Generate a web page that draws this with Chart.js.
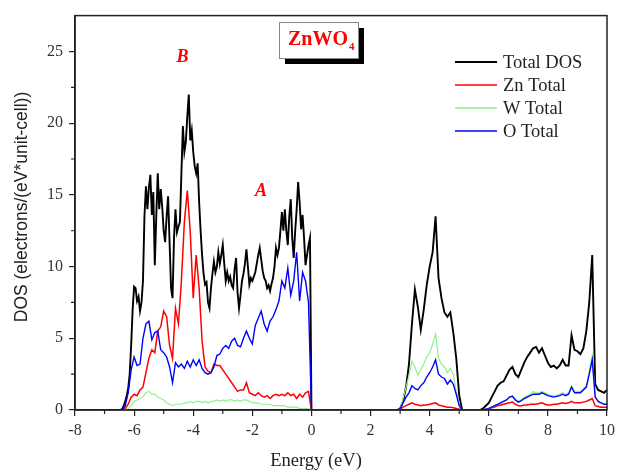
<!doctype html>
<html lang="en">
<head>
<meta charset="utf-8">
<script src="https://cdn.jsdelivr.net/npm/chart.js@4.4.0/dist/chart.umd.min.js"></script>
<style>
  body { margin: 0; background: #fff; }
</style>
</head>
<body>
<canvas id="dos" width="620" height="470"></canvas>
<script>
// energy grids (eV) for the three bands
const energyVB = [-6.5,-6.4,-6.3,-6.2,-6.1,-6.0,-5.9,-5.8,-5.7,-5.6,
  -5.5,-5.4,-5.3,-5.2,-5.1,-5.0,-4.9,-4.8,-4.7,-4.6,
  -4.5,-4.4,-4.3,-4.2,-4.1,-4.0,-3.9,-3.8,-3.7,-3.6,
  -3.5,-3.4,-3.3,-3.2,-3.1,-3.0,-2.9,-2.8,-2.7,-2.6,
  -2.5,-2.4,-2.3,-2.2,-2.1,-2.0,-1.9,-1.8,-1.7,-1.6,
  -1.5,-1.4,-1.3,-1.2,-1.1,-1.0,-0.9,-0.8,-0.7,-0.6,
  -0.5,-0.4,-0.3,-0.2,-0.1,0.0];
// finer grid used for the (very spiky) total DOS in the valence band
const energyTotalVB = [-6.5,-6.45,-6.4,-6.35,-6.3,-6.25,-6.2,-6.15,-6.1,-6.05,
  -6.0,-5.95,-5.9,-5.85,-5.8,-5.75,-5.7,-5.65,-5.6,-5.55,
  -5.5,-5.45,-5.4,-5.35,-5.3,-5.25,-5.2,-5.15,-5.1,-5.05,
  -5.0,-4.95,-4.9,-4.85,-4.8,-4.75,-4.7,-4.65,-4.6,-4.55,
  -4.5,-4.45,-4.4,-4.35,-4.3,-4.25,-4.2,-4.15,-4.1,-4.05,
  -4.0,-3.95,-3.9,-3.85,-3.8,-3.75,-3.7,-3.65,-3.6,-3.55,
  -3.5,-3.45,-3.4,-3.35,-3.3,-3.25,-3.2,-3.15,-3.1,-3.05,
  -3.0,-2.95,-2.9,-2.85,-2.8,-2.75,-2.7,-2.65,-2.6,-2.55,
  -2.5,-2.45,-2.4,-2.35,-2.3,-2.25,-2.2,-2.15,-2.1,-2.05,
  -2.0,-1.95,-1.9,-1.85,-1.8,-1.75,-1.7,-1.65,-1.6,-1.55,
  -1.5,-1.45,-1.4,-1.35,-1.3,-1.25,-1.2,-1.15,-1.1,-1.05,
  -1.0,-0.95,-0.9,-0.85,-0.8,-0.75,-0.7,-0.65,-0.6,-0.55,
  -0.5,-0.45,-0.4,-0.35,-0.3,-0.25,-0.2,-0.15,-0.1,-0.05,
  0.0];
const energyCB1 = [2.9,3.0,3.1,3.2,3.3,3.4,3.5,3.6,3.7,3.8,3.9,4.0,4.1,4.2,4.3,4.4,4.5,4.6,4.7,4.8,4.9,5.0,5.1];
const energyCB2 = [5.6,5.7,5.8,5.9,6.0,6.1,6.2,6.3,6.4,6.5,
  6.6,6.7,6.8,6.9,7.0,7.1,7.2,7.3,7.4,7.5,
  7.6,7.7,7.8,7.9,8.0,8.1,8.2,8.3,8.4,8.5,
  8.6,8.7,8.8,8.9,9.0,9.1,9.2,9.3,9.4,9.5,
  9.6,9.7,9.8,9.9,10.0];

// Total DOS
const totalVB = [0,0,0.1,0.3,0.6,1.0,1.5,2.5,4.5,7.0,
  8.6,8.5,7.6,7.9,6.9,7.5,9.0,13.5,15.6,14.0,
  15.5,16.4,13.6,15.2,10.1,13.5,16.5,14.0,15.4,14.2,
  12.5,11.7,13.5,14.9,11.7,8.5,7.8,12.0,14.0,12.4,
  12.8,13.1,16.5,19.8,18.0,18.7,20.5,22.0,18.8,19.5,
  18.0,17.0,16.5,17.2,14.5,12.5,10.8,9.5,8.75,8.9,
  7.5,7.1,8.5,9.5,10.35,9.6,10.0,11.0,10.2,10.8,
  11.5,10.2,9.0,9.6,9.0,9.3,8.7,8.5,9.8,10.6,
  8.2,7.1,8.0,9.0,9.5,10.2,11.2,10.0,8.75,9.2,
  9.0,9.3,9.6,10.2,10.8,11.3,10.5,9.7,9.2,9.0,
  8.5,8.7,8.3,8.8,9.2,10.0,11.3,10.8,11.3,12.5,
  13.8,12.5,14.0,12.5,11.5,13.5,14.7,12.0,10.6,12.5,
  14.0,15.9,14.5,12.6,13.6,12.0,10.1,10.8,11.5,12.0,
  0];
const totalCB1 = [0,0.1,0.6,1.6,3.2,6.0,8.4,7.2,5.6,7.0,8.7,10.0,11.0,13.5,9.2,7.8,6.8,6.5,6.8,5.4,3.6,1.0,0];
const totalCB2 = [0,0,0.1,0.3,0.5,0.9,1.3,1.7,1.9,2.0,
  2.4,2.8,3.0,2.5,2.3,2.8,3.3,3.7,4.0,4.3,
  4.4,4.0,4.3,3.8,3.3,3.0,3.1,2.9,3.1,3.5,
  3.1,3.1,5.2,4.2,4.1,3.9,4.3,5.5,7.5,10.8,
  1.8,1.4,1.3,1.2,1.4];

// Zn Total
const znVB = [0,0,0.1,0.4,0.9,1.1,1.0,1.4,1.6,2.6,
  3.6,4.2,4.0,5.5,5.8,6.9,6.5,4.5,3.6,7.1,
  6.0,9.0,13.1,15.3,12.4,7.8,10.8,8.5,4.8,3.0,
  2.7,2.6,3.2,3.1,3.1,2.8,2.5,2.2,1.9,1.6,
  1.3,1.4,1.4,1.9,1.2,1.1,1.0,1.2,1.0,0.9,
  1.0,0.8,1.0,1.1,1.0,1.1,1.0,1.2,1.0,1.1,
  0.8,1.1,0.9,1.2,1.3,0];
const znCB1 = [0,0.05,0.2,0.3,0.4,0.5,0.4,0.35,0.3,0.35,0.35,0.4,0.45,0.5,0.35,0.3,0.25,0.2,0.2,0.15,0.1,0.05,0];
const znCB2 = [0,0,0,0.05,0.1,0.15,0.2,0.3,0.35,0.4,
  0.45,0.5,0.55,0.4,0.3,0.3,0.35,0.35,0.4,0.4,
  0.4,0.45,0.5,0.4,0.35,0.35,0.4,0.4,0.45,0.5,
  0.45,0.5,0.6,0.5,0.5,0.5,0.55,0.6,0.7,0.8,
  0.3,0.25,0.2,0.2,0.2];

// W Total
const wVB = [0,0,0,0.1,0.3,0.6,0.7,0.8,0.9,1.2,
  1.3,1.1,1.1,0.9,0.8,0.7,0.5,0.4,0.3,0.4,
  0.4,0.4,0.5,0.5,0.6,0.5,0.6,0.6,0.5,0.6,
  0.5,0.6,0.6,0.7,0.6,0.7,0.6,0.7,0.7,0.6,
  0.7,0.6,0.7,0.7,0.6,0.5,0.5,0.5,0.4,0.4,
  0.4,0.4,0.3,0.3,0.3,0.3,0.3,0.2,0.2,0.2,
  0.2,0.1,0.1,0.1,0.1,0];
const wCB1 = [0,0.1,0.8,1.6,2.4,3.4,3.0,2.4,2.8,3.2,3.7,4.0,4.6,5.3,3.6,3.2,3.0,2.6,2.9,2.5,1.3,0.3,0];
const wCB2 = [0,0,0,0.05,0.1,0.2,0.3,0.4,0.5,0.6,
  0.7,0.9,1.0,0.8,0.6,0.7,0.9,1.0,1.1,1.3,
  1.2,1.2,1.3,1.2,1.1,1.0,1.0,1.0,1.1,1.2,
  1.1,1.2,1.7,1.3,1.3,1.3,1.5,1.7,2.7,3.8,
  1.0,0.6,0.5,0.4,0.4];

// O Total
const oVB = [0,0,0.3,1.2,2.8,3.7,3.1,3.2,5.0,6.0,
  6.2,4.9,5.4,5.5,4.2,4.0,3.7,3.0,1.9,3.3,
  3.0,3.2,2.9,3.4,3.0,3.5,3.1,3.5,2.9,2.6,
  2.5,2.6,3.0,3.8,3.9,4.3,4.5,4.3,4.8,5.0,
  4.5,4.4,5.0,5.5,5.0,4.6,5.9,6.4,6.9,6.0,
  5.5,6.2,6.5,7.0,7.6,9.0,8.5,9.9,8.0,9.0,
  11.0,7.6,9.6,9.0,7.5,0];
const oCB1 = [0,0.1,0.5,0.9,1.2,1.7,1.5,1.4,1.7,1.9,2.3,2.6,3.0,3.5,2.5,2.3,2.2,1.8,2.1,1.8,1.1,0.3,0];
const oCB2 = [0,0,0,0.05,0.1,0.2,0.3,0.4,0.5,0.6,
  0.7,0.9,0.95,0.7,0.55,0.65,0.8,0.9,1.0,1.1,
  1.1,1.1,1.2,1.1,1.0,0.95,0.9,0.95,1.0,1.1,
  1.0,1.1,1.6,1.2,1.2,1.2,1.4,1.6,2.5,3.5,
  0.9,0.6,0.5,0.4,0.4];

const seriesNames = ["Total DOS", "Zn Total", "W Total", "O Total"];
const seriesColors = ["#000000", "#ff0000", "#90f090", "#0000ff"];
const xTicks = [-8, -6, -4, -2, 0, 2, 4, 6, 8, 10];
const yTicks = [0, 5, 10, 15, 20, 25];

function pts(e, v) {
  return e.map((x, i) => ({ x: x, y: v[i] }));
}
function band(eVB, vb, cb1, cb2) {
  return pts(eVB, vb).concat(pts(energyCB1, cb1), pts(energyCB2, cb2));
}

const serif = "'Liberation Serif', 'Times New Roman', serif";
const sans = "'Liberation Sans', Arial, sans-serif";

// frame, minor ticks, titles, legend and the labels on the plot
const decor = {
  id: "decor",
  afterDraw(chart) {
    const ctx = chart.ctx;
    const a = chart.chartArea;
    const xs = chart.scales.x, ys = chart.scales.y;
    ctx.save();
    ctx.strokeStyle = "#222";
    ctx.lineWidth = 1.5;
    ctx.strokeRect(a.left, a.top, a.right - a.left, a.bottom - a.top);

    // minor ticks
    ctx.lineWidth = 1.2;
    ctx.beginPath();
    for (let v = -7; v < 10; v += 2) {
      const px = xs.getPixelForValue(v);
      ctx.moveTo(px, a.bottom); ctx.lineTo(px, a.bottom + 4);
    }
    for (let v = 2.5; v < 27; v += 5) {
      const py = ys.getPixelForValue(v);
      ctx.moveTo(a.left, py); ctx.lineTo(a.left - 4, py);
    }
    ctx.stroke();

    // axis titles
    ctx.fillStyle = "#222";
    ctx.textAlign = "center";
    ctx.textBaseline = "middle";
    ctx.font = "18.5px " + serif;
    ctx.fillText("Energy (eV)", 316, 461);
    ctx.save();
    ctx.translate(22, 207);
    ctx.rotate(-Math.PI / 2);
    ctx.font = "17.5px " + sans;
    ctx.fillText("DOS (electrons/(eV*unit-cell))", 0, 0);
    ctx.restore();

    // legend
    ctx.textAlign = "left";
    ctx.font = "18.5px " + serif;
    seriesNames.forEach((name, i) => {
      const y = 62 + i * 23;
      ctx.strokeStyle = seriesColors[i];
      ctx.lineWidth = i === 0 ? 2 : 1.6;
      ctx.beginPath();
      ctx.moveTo(455, y); ctx.lineTo(497, y);
      ctx.stroke();
      ctx.fillStyle = "#222";
      ctx.fillText(name, 503, y + 1);
    });

    // ZnWO4 box with shadow
    ctx.fillStyle = "#000";
    ctx.fillRect(285, 28, 79, 36);
    ctx.fillStyle = "#fff";
    ctx.fillRect(279, 22, 79, 36);
    ctx.strokeStyle = "#888";
    ctx.lineWidth = 1;
    ctx.strokeRect(279.5, 22.5, 79, 36);
    ctx.fillStyle = "#ff0000";
    ctx.textBaseline = "alphabetic";
    ctx.font = "bold 20px " + serif;
    ctx.fillText("ZnWO", 288, 45);
    const w = ctx.measureText("ZnWO").width;
    ctx.font = "bold 11px " + serif;
    ctx.fillText("4", 288 + w + 1, 50);

    // peak labels
    ctx.textAlign = "center";
    ctx.textBaseline = "middle";
    ctx.font = "italic bold 18px " + serif;
    ctx.fillText("B", 182.5, 57.5);
    ctx.fillText("A", 261, 191);
    ctx.restore();
  }
};

const datasets = [
  { label: seriesNames[0], data: band(energyTotalVB, totalVB, totalCB1, totalCB2), borderColor: seriesColors[0], borderWidth: 1.9, order: 3 },
  { label: seriesNames[1], data: band(energyVB, znVB, znCB1, znCB2), borderColor: seriesColors[1], borderWidth: 1.5, order: 2 },
  { label: seriesNames[2], data: band(energyVB, wVB, wCB1, wCB2), borderColor: seriesColors[2], borderWidth: 1.2, order: 1 },
  { label: seriesNames[3], data: band(energyVB, oVB, oCB1, oCB2), borderColor: seriesColors[3], borderWidth: 1.4, order: 0 }
];

new Chart(document.getElementById("dos"), {
  type: "line",
  data: { datasets: datasets },
  plugins: [decor],
  options: {
    responsive: false,
    animation: false,
    events: [],
    layout: { padding: { left: 0, top: 11, right: 10, bottom: 0 } },
    elements: { point: { radius: 0 }, line: { tension: 0 } },
    plugins: { legend: { display: false }, tooltip: { enabled: false } },
    scales: {
      x: {
        type: "linear", min: -8, max: 10,
        afterBuildTicks: s => { s.ticks = xTicks.map(v => ({ value: v })); },
        afterFit: s => { s.height = 60; },
        grid: { drawOnChartArea: false, drawTicks: true, tickLength: 6, color: "#222", lineWidth: 1.2 },
        border: { color: "#222", width: 1.5 },
        ticks: { color: "#333", padding: 5, font: { family: serif, size: 16 } }
      },
      y: {
        type: "linear", min: 0, max: 27.5,
        afterBuildTicks: s => { s.ticks = yTicks.map(v => ({ value: v })); },
        afterFit: s => { s.width = 75; },
        grid: { drawOnChartArea: false, drawTicks: true, tickLength: 6, color: "#222", lineWidth: 1.2 },
        border: { color: "#222", width: 1.5 },
        ticks: { color: "#333", padding: 6, font: { family: serif, size: 16 } }
      }
    }
  }
});
</script>
</body>
</html>
